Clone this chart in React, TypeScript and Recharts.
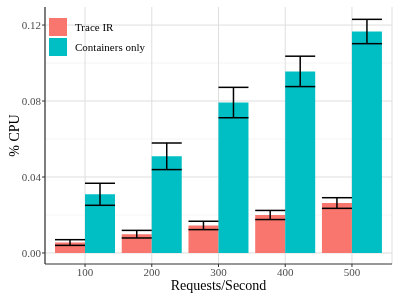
import React from "react";
import {
  Bar,
  BarChart,
  CartesianGrid,
  ErrorBar,
  Legend,
  XAxis,
  YAxis,
} from "recharts";

const requestRates = ["100", "200", "300", "400", "500"];
const traceIR = [0.0055, 0.0099, 0.0145, 0.02, 0.0263];
const traceIRErr = [0.0015, 0.002, 0.0022, 0.0024, 0.0028];
const containersOnly = [0.0309, 0.0509, 0.0792, 0.0956, 0.1166];
const containersOnlyErr = [0.0058, 0.007, 0.008, 0.008, 0.0064];
const majorTicks = [0, 0.04, 0.08, 0.12];
const minorTicks = [0.02, 0.06, 0.1];

const seriesNames = ["Trace IR", "Containers only"];
const seriesColors = ["#F8766D", "#00BFC4"];

const FONT = "'Liberation Serif', 'Times New Roman', serif";

const data = requestRates.map((rps, i) => ({
  rps,
  trace: traceIR[i],
  traceErr: traceIRErr[i],
  containers: containersOnly[i],
  containersErr: containersOnlyErr[i],
}));

const renderLegend = () => (
  <div style={{ fontFamily: FONT, fontSize: 11, color: "#000" }}>
    {seriesNames.map((name, i) => (
      <div
        key={name}
        style={{ display: "flex", alignItems: "center", height: 20 }}
      >
        <div
          style={{
            width: 18,
            height: 18,
            background: seriesColors[i],
            marginRight: 8,
          }}
        />
        <span>{name}</span>
      </div>
    ))}
  </div>
);

export default function App() {
  return (
    <div style={{ position: "fixed", left: 0, top: 0 }}>
      <BarChart
        width={400}
        height={300}
        data={data}
        margin={{ top: 7, right: 8, bottom: 0, left: 0 }}
        barCategoryGap="5%"
        barGap={0}
      >
        <CartesianGrid
          horizontalValues={minorTicks}
          vertical={false}
          stroke="#efefef"
          strokeWidth={0.6}
        />
        <CartesianGrid
          horizontalValues={majorTicks}
          stroke="#dedede"
          strokeWidth={1}
        />
        <XAxis
          dataKey="rps"
          height={36}
          padding={{ left: 6.67, right: 6.67 }}
          tickSize={3}
          tickMargin={1}
          tick={{ fill: "#4d4d4d", fontSize: 11, fontFamily: FONT }}
          axisLine={{ stroke: "#333", strokeWidth: 1.2 }}
          tickLine={{ stroke: "#333" }}
          label={{
            content: ({ viewBox }: any) => (
              <text
                x={viewBox.x + viewBox.width / 2}
                y={viewBox.y + 26}
                textAnchor="middle"
                fontFamily={FONT}
                fontSize={14}
                fill="#000"
              >
                Requests/Second
              </text>
            ),
          }}
        />
        <XAxis
          xAxisId="top"
          dataKey="rps"
          orientation="top"
          height={0}
          tick={false}
          tickLine={false}
          axisLine={{ stroke: "#999" }}
        />
        <YAxis
          width={45}
          domain={[-0.0058, 0.1295]}
          allowDataOverflow
          ticks={majorTicks}
          tickFormatter={(v: number) => v.toFixed(2)}
          tickSize={3}
          tickMargin={1}
          tick={{ fill: "#4d4d4d", fontSize: 11, fontFamily: FONT }}
          axisLine={{ stroke: "#333", strokeWidth: 1.2 }}
          tickLine={{ stroke: "#333" }}
          label={{
            content: ({ viewBox }: any) => {
              const cx = 14;
              const cy = viewBox.y + viewBox.height / 2;
              return (
                <text
                  x={cx}
                  y={cy}
                  transform={`rotate(-90 ${cx} ${cy})`}
                  textAnchor="middle"
                  dominantBaseline="central"
                  fontFamily={FONT}
                  fontSize={14}
                  fill="#000"
                >
                  % CPU
                </text>
              );
            },
          }}
        />
        <YAxis
          yAxisId="right"
          orientation="right"
          width={0}
          domain={[0, 1]}
          tick={false}
          tickLine={false}
          axisLine={{ stroke: "#999" }}
        />
        <Legend
          layout="vertical"
          align="center"
          verticalAlign="middle"
          content={renderLegend}
          wrapperStyle={{ left: 49, top: 17, width: 150, height: 40 }}
        />
        <Bar
          dataKey="trace"
          name={seriesNames[0]}
          fill={seriesColors[0]}
          isAnimationActive={false}
        >
          <ErrorBar
            dataKey="traceErr"
            direction="y"
            width={15}
            stroke="#000"
            strokeWidth={1.5}
          />
        </Bar>
        <Bar
          dataKey="containers"
          name={seriesNames[1]}
          fill={seriesColors[1]}
          isAnimationActive={false}
        >
          <ErrorBar
            dataKey="containersErr"
            direction="y"
            width={15}
            stroke="#000"
            strokeWidth={1.5}
          />
        </Bar>
      </BarChart>
    </div>
  );
}
